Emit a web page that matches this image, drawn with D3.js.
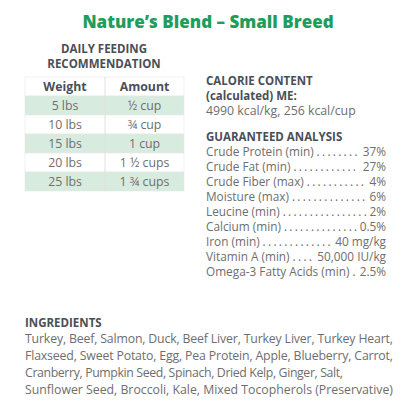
<!DOCTYPE html>
<html>
<head>
<meta charset="utf-8">
<script src="https://d3js.org/d3.v7.min.js"></script>
<style>
  body { margin: 0; background: #fff; }
  text { font-family: "Open Sans", "Noto Sans", sans-serif; }
</style>
</head>
<body>
<div id="chart"></div>
<script>
// feeding table
var weights = ["5 lbs", "10 lbs", "15 lbs", "20 lbs", "25 lbs"];
var amounts = ["½ cup", "¾ cup", "1 cup", "1 ½ cups", "1 ¾ cups"];

// guaranteed analysis
var nutrients = ["Crude Protein (min)", "Crude Fat (min)", "Crude Fiber (max)", "Moisture (max)",
  "Leucine (min)", "Calcium (min)", "Iron (min)", "Vitamin A (min)", "Omega-3 Fatty Acids (min)"];
var nutrientValues = ["37%", "27%", "4%", "6%", "2%", "0.5%", "40 mg/kg", "50,000 IU/kg", "2.5%"];

var ingredientLines = [
  "Turkey, Beef, Salmon, Duck, Beef Liver, Turkey Liver, Turkey Heart,",
  "Flaxseed, Sweet Potato, Egg, Pea Protein, Apple, Blueberry, Carrot,",
  "Cranberry, Pumpkin Seed, Spinach, Dried Kelp, Ginger, Salt,",
  "Sunflower Seed, Broccoli, Kale, Mixed Tocopherols (Preservative)"
];

var w = 416, h = 416;
var svg = d3.select("#chart").append("svg").attr("width", w).attr("height", h);
var grey = "#6e6e6e", dark = "#4a4f57", fs = 12.3, afs = 11.8;

svg.append("text").attr("x", 208).attr("y", 28).attr("text-anchor", "middle")
  .attr("fill", "#1f9d5c").attr("font-size", 17).attr("font-weight", 800)
  .text("Nature’s Blend – Small Breed");

svg.selectAll(".fh").data(["DAILY FEEDING", "RECOMMENDATION"]).enter().append("text")
  .attr("x", 104).attr("y", (d, i) => 53 + i * 15).attr("text-anchor", "middle")
  .attr("fill", dark).attr("font-size", 11.5).attr("font-weight", 700).text(d => d);

// table
var x0 = 25, x1 = 184, xm = 105;
var y = d3.scaleBand().domain(d3.range(weights.length + 1)).range([77, 191]);
var table = svg.append("g");
table.selectAll("rect").data(d3.range(weights.length + 1)).enter().append("rect")
  .attr("x", x0).attr("width", x1 - x0).attr("y", d => y(d)).attr("height", y.bandwidth())
  .attr("fill", d => d % 2 === 1 ? "#d8ebdf" : "#fff")
  .attr("stroke", "#e6e6e6").attr("stroke-width", 0.6);
table.append("line").attr("x1", xm).attr("x2", xm).attr("y1", 77).attr("y2", 191)
  .attr("stroke", "#e0e0e0");
var rows = [["Weight", "Amount"]].concat(weights.map((d, i) => [d, amounts[i]]));
rows.forEach(function (r, i) {
  [[r[0], (x0 + xm) / 2], [r[1], (xm + x1) / 2]].forEach(function (c) {
    table.append("text").attr("x", c[1]).attr("y", y(i) + y.bandwidth() / 2 + 4.5)
      .attr("text-anchor", "middle").attr("font-size", fs)
      .attr("font-weight", i === 0 ? 700 : 400)
      .attr("fill", i === 0 ? dark : grey).text(c[0]);
  });
});

// calorie content
var lx = 206, rx = 386;
svg.append("text").attr("x", lx).attr("y", 85).attr("fill", dark).attr("font-size", 11.5).attr("font-weight", 700).text("CALORIE CONTENT");
svg.append("text").attr("x", lx).attr("y", 100).attr("fill", dark).attr("font-size", 11.5).attr("font-weight", 700).text("(calculated) ME:");
svg.append("text").attr("x", lx).attr("y", 115).attr("fill", grey).attr("font-size", fs).text("4990 kcal/kg, 256 kcal/cup");
svg.append("text").attr("x", lx).attr("y", 141).attr("fill", dark).attr("font-size", 11.5).attr("font-weight", 700).text("GUARANTEED ANALYSIS");

var ay = d3.scalePoint().domain(d3.range(nutrients.length)).range([156, 276]);
nutrients.forEach(function (n, i) {
  var t = svg.append("text").attr("x", lx).attr("y", ay(i)).attr("fill", grey).attr("font-size", afs).text(n);
  var v = svg.append("text").attr("x", rx).attr("y", ay(i)).attr("text-anchor", "end")
    .attr("fill", grey).attr("font-size", afs).text(nutrientValues[i]);
  var a = lx + t.node().getComputedTextLength() + 3;
  var b = rx - v.node().getComputedTextLength() - 2;
  var d = svg.append("text").attr("x", a).attr("y", ay(i)).attr("fill", grey)
    .attr("font-size", afs).attr("letter-spacing", 2.3);
  var n2 = 0;
  while (n2 < 60) {
    d.text(".".repeat(n2 + 1));
    if (a + d.node().getComputedTextLength() - 2.3 > b) break;
    n2++;
  }
  d.text(".".repeat(n2));
});

// ingredients
svg.append("text").attr("x", 25).attr("y", 327).attr("fill", dark).attr("font-size", 11.5).attr("font-weight", 700).text("INGREDIENTS");
svg.selectAll(".ing").data(ingredientLines).enter().append("text")
  .attr("x", 25).attr("y", (d, i) => 343 + i * 17).attr("fill", grey).attr("font-size", fs)
  .attr("textLength", (d, i) => i === 2 ? 318 : 368).text(d => d);
</script>
</body>
</html>
